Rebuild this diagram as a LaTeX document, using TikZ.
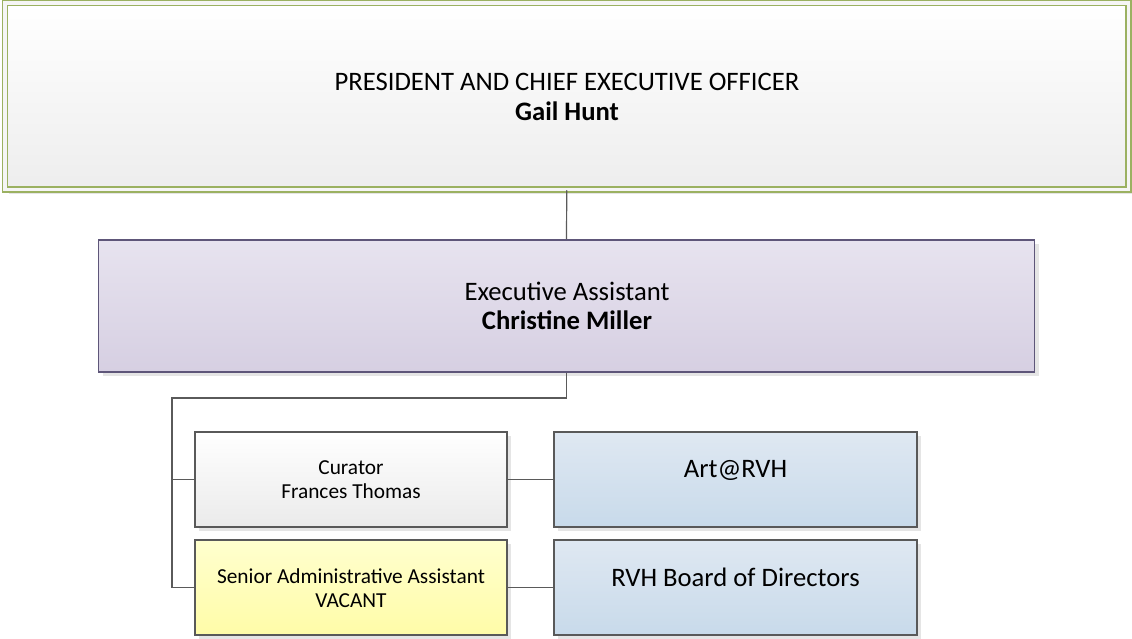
\documentclass[tikz,border=0pt]{standalone}
\usepackage{fontspec}
\setmainfont{Carlito}
\usetikzlibrary{shadows}

\definecolor{ceogreen}{HTML}{9BB161}
\definecolor{execline}{HTML}{5E5679}
\definecolor{boxline}{HTML}{595959}
\definecolor{linkgray}{HTML}{5A5A5A}

\tikzset{every picture/.style={line width=0.75pt}}
\tikzset{
  boxshadow/.style={drop shadow={shadow xshift=3pt,shadow yshift=-3pt,fill=black!10,opacity=1}},
  ceobox/.style={draw=ceogreen,line width=1.1pt,double=black!4,double distance=2.6pt,
    top color=white,bottom color=black!7,minimum width=842.6pt,minimum height=139.9pt,
    inner sep=0pt,boxshadow},
  execbox/.style={draw=execline,line width=1.2pt,top color={rgb,255:red,231;green,227;blue,239},
    bottom color={rgb,255:red,214;green,207;blue,226},minimum width=702pt,minimum height=99pt,
    inner sep=0pt,boxshadow},
  staffbox/.style={draw=boxline,line width=1pt,minimum width=234pt,minimum height=71.25pt,
    inner sep=0pt,boxshadow},
  unitbox/.style={draw=boxline,line width=1pt,top color={rgb,255:red,223;green,232;blue,242},
    bottom color={rgb,255:red,200;green,218;blue,234},minimum width=272.25pt,minimum height=71.25pt,
    inner sep=0pt,boxshadow},
  link/.style={draw=linkgray,line width=0.9pt}
}

\begin{document}
\begin{tikzpicture}[x=0.75pt,y=0.75pt,yscale=-1,xscale=1]
\useasboundingbox (0,0) rectangle (1132,639);
%Shape: Rectangle [ceo]
\node [ceobox] (ceo) at (566.75,96.25) {};
%Shape: Rectangle [exec]
\node [execbox] (exec) at (566.5,306) {};
%Shape: Rectangle [curator]
\node [staffbox,top color=white,bottom color=black!8] (curator) at (351,479.5) {};
%Shape: Rectangle [senior]
\node [staffbox,top color={rgb,255:red,255;green,255;blue,206},bottom color={rgb,255:red,255;green,252;blue,168}] (senior) at (351,587.5) {};
%Shape: Rectangle [art]
\node [unitbox] (art) at (735.5,479.5) {};
%Shape: Rectangle [board]
\node [unitbox] (board) at (735.5,587.5) {};

%Straight Lines
\coordinate (jn) at (172,398);
\draw [link] (ceo.south) -- (exec.north);
\draw [link] (exec.south) |- (jn) |- (senior.west);
\draw [link] (jn) |- (curator.west);
\draw [link] (curator.east) -- (art.west);
\draw [link] (senior.east) -- (board.west);

% Text Node
\node [align=center,font=\fontsize{20}{22}\selectfont] (ceotxt) at (567,97) {PRESIDENT AND CHIEF EXECUTIVE OFFICER\\\textbf{Gail Hunt}};
% Text Node
\node [align=center,font=\fontsize{20}{22}\selectfont] (exectxt) at (567,306) {Executive Assistant\\\textbf{Christine Miller}};
% Text Node
\node [align=center,font=\fontsize{16}{18}\selectfont] (curtxt) at (351,480) {Curator\\Frances Thomas};
% Text Node
\node [align=center,font=\fontsize{16}{18}\selectfont] (sentxt) at (351,588) {Senior Administrative Assistant\\VACANT};
% Text Node
\node [font=\fontsize{20}{22}\selectfont] (arttxt) at (735.5,470) {Art@RVH};
% Text Node
\node [font=\fontsize{20}{22}\selectfont] (boardtxt) at (735.5,577) {RVH Board of Directors};
\end{tikzpicture}
\end{document}
